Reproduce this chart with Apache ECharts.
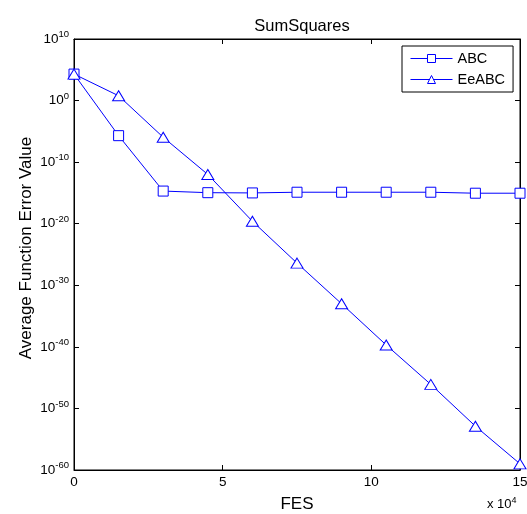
<!DOCTYPE html>
<html>
<head>
<meta charset="utf-8">
<script src="https://cdn.jsdelivr.net/npm/echarts@6/dist/echarts.min.js"></script>
<style>
  html, body { margin: 0; padding: 0; background: #fff; }
  #chart { width: 527px; height: 514px; }
</style>
</head>
<body>
<div id="chart"></div>
<script>
// FES sample points (axis shows them in units of 10^4)
var fes = [0, 15000, 30000, 45000, 60000, 75000, 90000, 105000, 120000, 135000, 150000];
var abcValues = [2e4, 2e-6, 2e-15, 1.1e-15, 1e-15, 1.3e-15, 1.3e-15, 1.3e-15, 1.3e-15, 9e-16, 9e-16];
var eeabcValues = [2e4, 6, 1.1e-6, 1e-12, 2.5e-20, 4e-27, 1e-33, 2e-40, 8e-47, 1.3e-53, 1e-59];
var xTicks = [0, 5, 10, 15];

// y axis is drawn in log10 space (10^-60 .. 10^10)
function pairs(xs, ys) {
    var out = [];
    for (var i = 0; i < xs.length; i++) out.push([xs[i], Math.log10(ys[i])]);
    return out;
}

document.addEventListener('DOMContentLoaded', function () {
    var chartDom = document.getElementById('chart');
    var myChart = echarts.init(chartDom);
    var font = 'Liberation Sans, Arial, sans-serif';
    var blue = '#0000ff';

    var tickStyle = { inside: true, length: 5, lineStyle: { color: '#000' } };

    var option = {
        animation: false,
        backgroundColor: '#fff',
        color: [blue, blue],
        title: {
            text: 'SumSquares',
            left: 297,
            textAlign: 'center',
            top: 13,
            textStyle: { fontSize: 16.5, fontWeight: 'normal', color: '#000', fontFamily: font }
        },
        legend: {
            left: 402,
            top: 46,
            orient: 'vertical',
            backgroundColor: '#fff',
            borderColor: '#000',
            borderWidth: 1,
            padding: [5, 8, 5, 8],
            itemGap: 6,
            itemWidth: 42,
            itemHeight: 10,
            lineStyle: { color: blue, width: 1 },
            itemStyle: { color: '#fff', borderColor: blue, borderWidth: 1 },
            textStyle: { fontSize: 14.5, color: '#000', fontFamily: font },
            data: ['ABC', 'EeABC']
        },
        grid: {
            left: 74, right: 7, top: 39, bottom: 44,
            outerBoundsMode: 'none',
            containLabel: false,
            show: true, borderColor: '#000', borderWidth: 1
        },
        xAxis: [{
            type: 'value',
            min: 0, max: 150000, interval: 50000,
            name: 'FES',
            nameLocation: 'middle',
            nameGap: 26,
            nameTextStyle: { fontSize: 17, color: '#000', fontFamily: font },
            axisLine: { onZero: false, lineStyle: { color: '#000' } },
            axisTick: tickStyle,
            axisLabel: {
                color: '#000', fontSize: 13.5, fontFamily: font, margin: 5,
                formatter: function (v) { return String(xTicks[Math.round(v / 50000)]); }
            },
            splitLine: { show: false }
        }, {
            type: 'value',
            position: 'top',
            min: 0, max: 150000, interval: 50000,
            axisLine: { onZero: false, lineStyle: { color: '#000' } },
            axisTick: tickStyle,
            axisLabel: { show: false },
            splitLine: { show: false }
        }],
        yAxis: [{
            type: 'value',
            min: -60, max: 10, interval: 10,
            axisLine: { onZero: false, lineStyle: { color: '#000' } },
            axisTick: tickStyle,
            axisLabel: {
                color: '#000',
                margin: 5,
                formatter: function (v) { return '{b|10}{s|' + v + '}'; },
                rich: {
                    b: { fontSize: 13.5, fontFamily: font, color: '#000' },
                    s: { fontSize: 9.5, fontFamily: font, color: '#000', verticalAlign: 'top', padding: [0, 0, 9, 0] }
                }
            },
            splitLine: { show: false }
        }, {
            type: 'value',
            position: 'right',
            min: -60, max: 10, interval: 10,
            axisLine: { onZero: false, lineStyle: { color: '#000' } },
            axisTick: tickStyle,
            axisLabel: { show: false },
            splitLine: { show: false }
        }],
        graphic: [{
            type: 'text',
            x: 26,
            y: 248,
            rotation: Math.PI / 2,
            style: {
                text: 'Average Function Error Value',
                fontSize: 17,
                fontFamily: font,
                fill: '#000',
                align: 'center',
                verticalAlign: 'middle'
            }
        }, {
            type: 'text',
            left: 487,
            top: 496,
            style: {
                text: 'x 10{s|4}',
                fontSize: 13,
                fontFamily: font,
                fill: '#000',
                rich: { s: { fontSize: 9, fontFamily: font, verticalAlign: 'top', padding: [0, 0, 8, 0] } }
            }
        }],
        series: [{
            name: 'ABC',
            type: 'line',
            data: pairs(fes, abcValues),
            symbol: 'rect',
            symbolSize: 10,
            lineStyle: { color: blue, width: 1 },
            itemStyle: { color: '#fff', borderColor: blue, borderWidth: 1 }
        }, {
            name: 'EeABC',
            type: 'line',
            data: pairs(fes, eeabcValues),
            symbol: 'triangle',
            symbolSize: [12, 10],
            lineStyle: { color: blue, width: 1 },
            itemStyle: { color: '#fff', borderColor: blue, borderWidth: 1 }
        }]
    };

    option && myChart.setOption(option);
});
</script>
</body>
</html>
